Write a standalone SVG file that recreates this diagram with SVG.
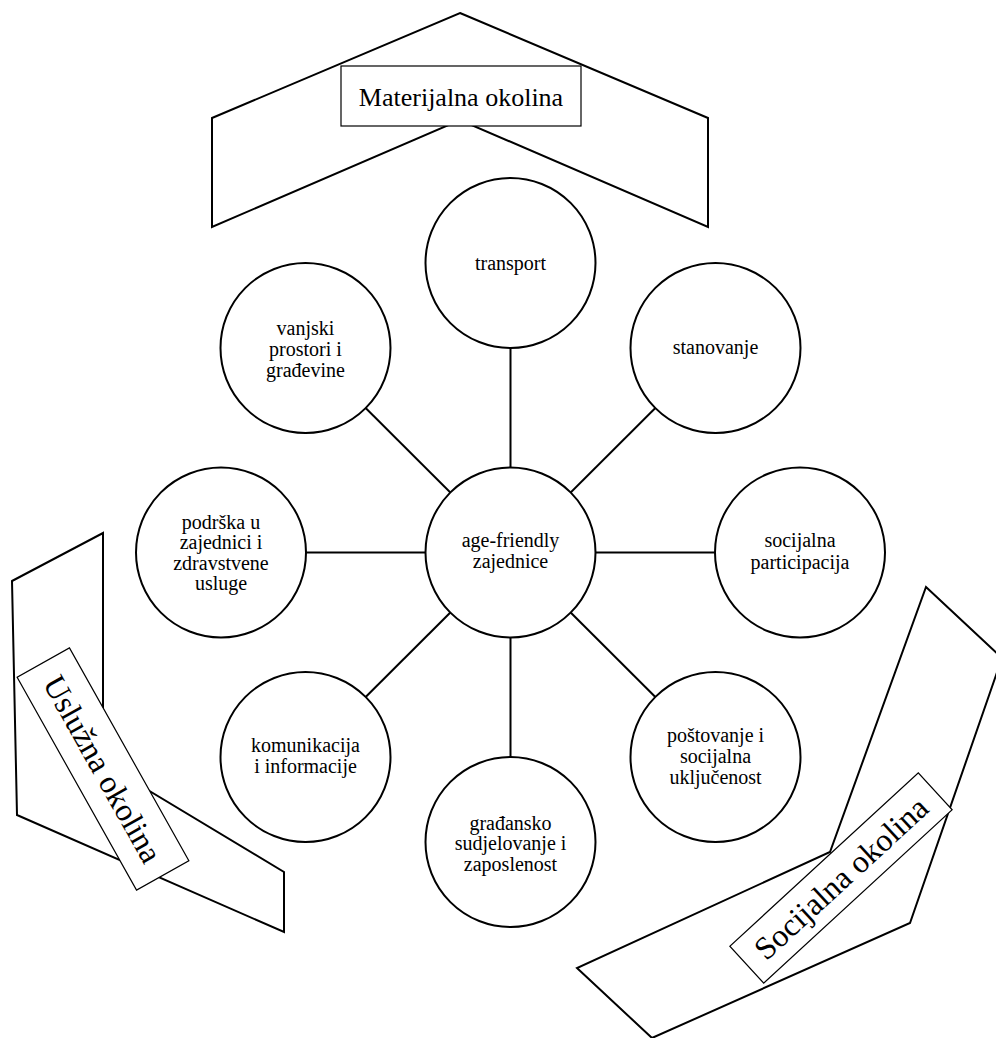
<svg xmlns="http://www.w3.org/2000/svg" width="996" height="1038" viewBox="0 0 996 1038">
  <style>
    text { font-family: "Liberation Serif", "Times New Roman", serif; fill: #000; text-anchor: middle; }
    .band { fill: #fff; stroke: #000; stroke-width: 2; stroke-linejoin: miter; }
    .tag { fill: #fff; stroke: #000; stroke-width: 1.2; }
    .node circle { fill: #fff; stroke: #000; stroke-width: 2; }
    .node text { font-size: 20px; }
    .links line { stroke: #000; stroke-width: 2; }
  </style>

  <!-- Environment bands with their labels -->
  <g id="materijalna">
    <polygon class="band" points="460,13 708,118 708,227 460,120 212,227 212,118"/>
    <rect class="tag" x="341" y="66" width="240" height="60"/>
    <text x="461" y="106" font-size="26">Materijalna okolina</text>
  </g>

  <g id="usluzna">
    <polygon class="band" points="12,581 103,533 103,763 284,872 284,932 17,815"/>
    <g transform="translate(103,769) rotate(60.7)">
      <rect class="tag" x="-122" y="-30" width="244" height="60"/>
      <text x="0" y="11" font-size="32">Uslužna okolina</text>
    </g>
  </g>

  <g id="socijalna">
    <polygon class="band" points="926,587 1002,658 910,923 652,1038 577,968 830,852"/>
    <g transform="translate(841,878) rotate(-42.6)">
      <rect class="tag" x="-128" y="-25" width="256" height="50"/>
      <text x="0" y="11" font-size="32">Socijalna okolina</text>
    </g>
  </g>

  <!-- Spokes from the hub to each domain -->
  <g class="links" id="connectors">
    <line x1="510.5" y1="552.5" x2="510.5" y2="263"/>
    <line x1="510.5" y1="552.5" x2="715.5" y2="348"/>
    <line x1="510.5" y1="552.5" x2="800" y2="552.5"/>
    <line x1="510.5" y1="552.5" x2="715.5" y2="757"/>
    <line x1="510.5" y1="552.5" x2="510.5" y2="842"/>
    <line x1="510.5" y1="552.5" x2="305.5" y2="757"/>
    <line x1="510.5" y1="552.5" x2="221" y2="552.5"/>
    <line x1="510.5" y1="552.5" x2="305.5" y2="348"/>
  </g>

  <!-- Domain nodes -->
  <g class="node" id="hub">
    <circle cx="510.5" cy="552.5" r="85"/>
    <text x="510.5" y="547">age-friendly</text>
    <text x="510.5" y="568">zajednice</text>
  </g>
  <g class="node" id="transport">
    <circle cx="510.5" cy="263" r="85"/>
    <text x="510.5" y="270">transport</text>
  </g>
  <g class="node" id="stanovanje">
    <circle cx="715.5" cy="348" r="85"/>
    <text x="715.5" y="354">stanovanje</text>
  </g>
  <g class="node" id="participacija">
    <circle cx="800" cy="552.5" r="85"/>
    <text x="800" y="547">socijalna</text>
    <text x="800" y="569">participacija</text>
  </g>
  <g class="node" id="postovanje">
    <circle cx="715.5" cy="757" r="85"/>
    <text x="715.5" y="742">poštovanje i</text>
    <text x="715.5" y="763">socijalna</text>
    <text x="715.5" y="783.5">uključenost</text>
  </g>
  <g class="node" id="gradjansko">
    <circle cx="510.5" cy="842" r="85"/>
    <text x="510.5" y="829.5">građansko</text>
    <text x="510.5" y="850">sudjelovanje i</text>
    <text x="510.5" y="870.5">zaposlenost</text>
  </g>
  <g class="node" id="komunikacija">
    <circle cx="305.5" cy="757" r="85"/>
    <text x="305.5" y="752">komunikacija</text>
    <text x="305.5" y="773">i informacije</text>
  </g>
  <g class="node" id="podrska">
    <circle cx="221" cy="552.5" r="85"/>
    <text x="221" y="528.5">podrška u</text>
    <text x="221" y="549">zajednici i</text>
    <text x="221" y="569.5">zdravstvene</text>
    <text x="221" y="590">usluge</text>
  </g>
  <g class="node" id="vanjski">
    <circle cx="305.5" cy="348" r="85"/>
    <text x="305.5" y="335">vanjski</text>
    <text x="305.5" y="356">prostori i</text>
    <text x="305.5" y="377">građevine</text>
  </g>
</svg>
